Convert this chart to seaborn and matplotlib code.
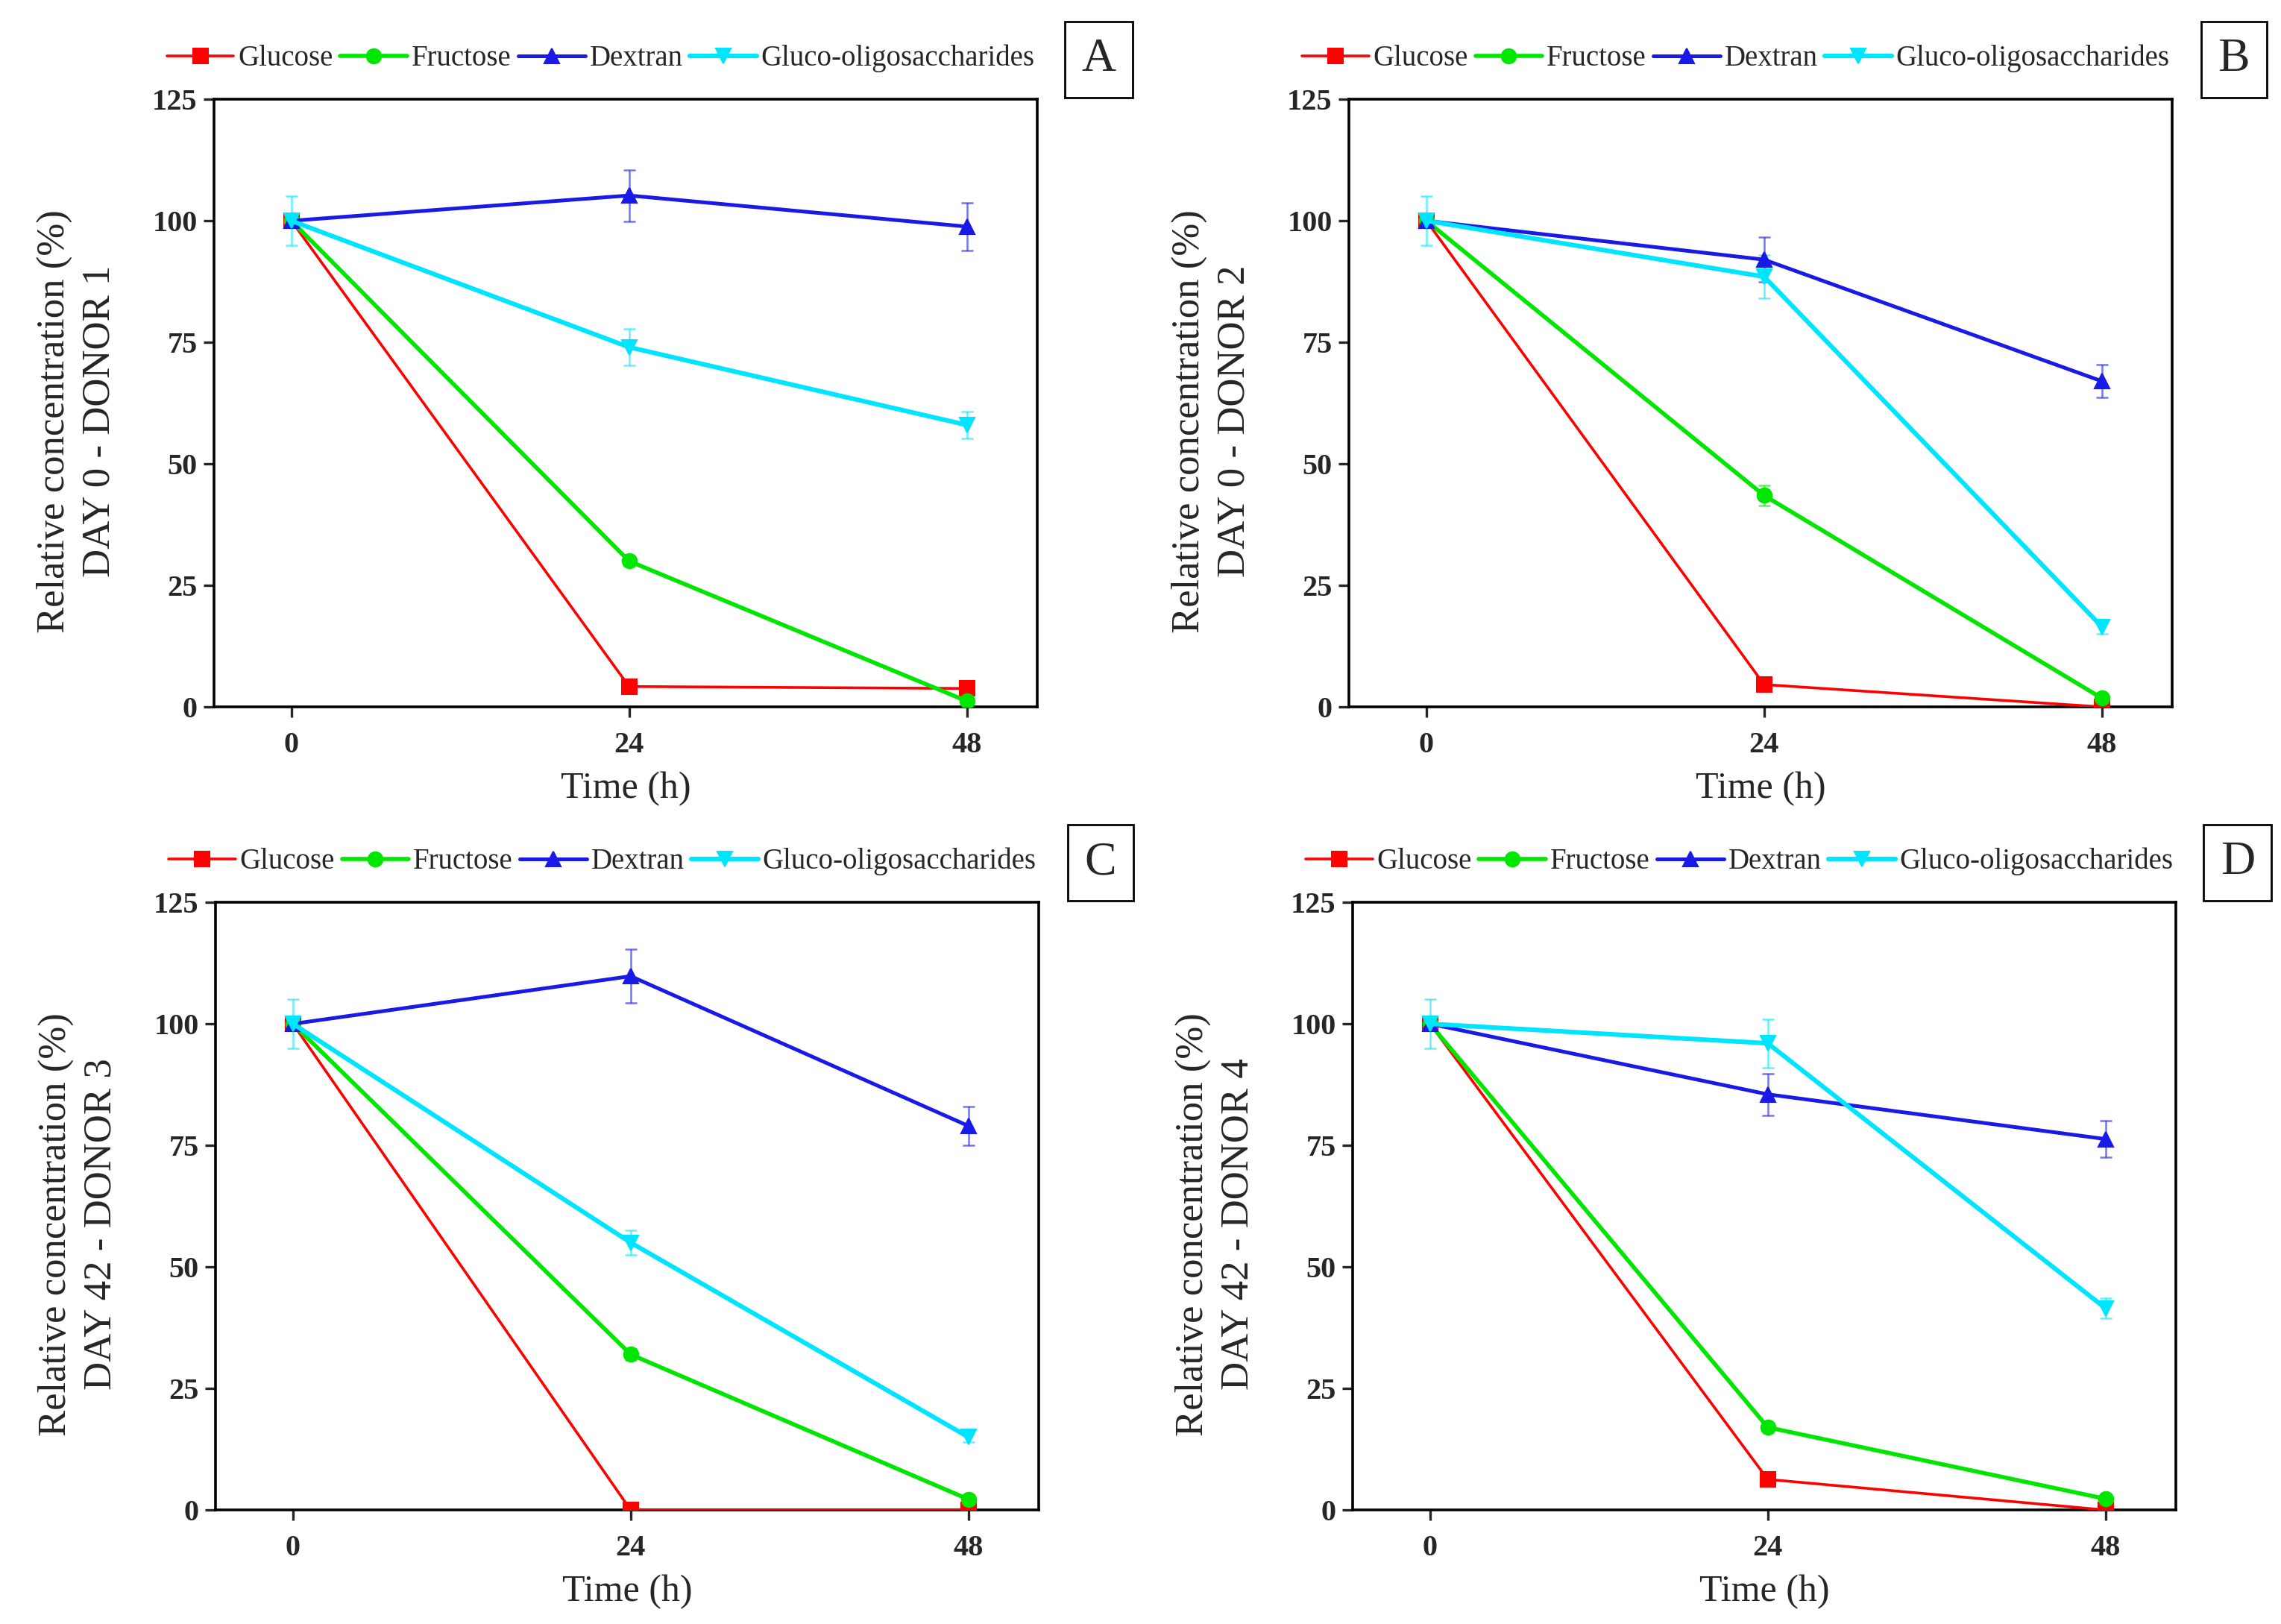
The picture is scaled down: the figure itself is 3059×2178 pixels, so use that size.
import numpy as np
import pandas as pd
import seaborn as sns
import matplotlib
matplotlib.use("Agg")
import matplotlib.pyplot as plt

# --- data ---
time_h = [0, 24, 48]
sugars = ["Glucose", "Fructose", "Dextran", "Gluco-oligosaccharides"]
panel_letters = ["A", "B", "C", "D"]
panel_ylabels = ["DAY 0 - DONOR 1", "DAY 0 - DONOR 2", "DAY 42 - DONOR 3", "DAY 42 - DONOR 4"]

glucose_vals = [[100, 4.2, 3.8], [100, 4.6, 0.0], [100, 0.0, 0.0], [100, 6.3, 0.0]]
fructose_vals = [[100, 30.0, 1.2], [100, 43.5, 1.8], [100, 32.0, 2.2], [100, 17.0, 2.3]]
dextran_vals = [[100, 105.2, 98.8], [100, 92.0, 67.0], [100, 109.8, 79.0], [100, 85.5, 76.3]]
gos_vals = [[100, 74.0, 58.0], [100, 88.5, 16.5], [100, 55.0, 15.0], [100, 96.0, 41.5]]

glucose_err = [[0.5, 0.3, 0.3], [0.5, 0.3, 0.0], [0.5, 0.0, 0.0], [0.5, 0.3, 0.0]]
fructose_err = [[0.5, 1.0, 0.3], [0.5, 2.0, 0.3], [0.5, 1.2, 0.5], [0.5, 0.5, 0.3]]
dextran_err = [[0.5, 5.3, 4.9], [0.5, 4.6, 3.4], [0.5, 5.5, 4.0], [0.5, 4.3, 3.8]]
gos_err = [[5.0, 3.8, 2.8], [5.0, 4.5, 1.5], [5.0, 2.6, 1.0], [5.0, 5.0, 2.0]]

colors = {"Glucose": "#ff0000", "Fructose": "#00e600",
          "Dextran": "#1a1ae6", "Gluco-oligosaccharides": "#00e5ff"}
markers = {"Glucose": "s", "Fructose": "o", "Dextran": "^", "Gluco-oligosaccharides": "v"}
widths = {"Glucose": 1.3, "Fructose": 2.0, "Dextran": 1.8, "Gluco-oligosaccharides": 2.2}

sns.set_style("white")
plt.rcParams['font.family'] = ['Liberation Serif', 'DejaVu Serif']

fig = plt.figure(figsize=(15.295, 10.89), dpi=200)

# axes rectangles [left, bottom, width, height] in figure fraction
rects = [[0.0938, 0.5647, 0.3609, 0.3742],
         [0.5914, 0.5647, 0.3609, 0.3742],
         [0.0945, 0.0702, 0.3609, 0.3742],
         [0.5930, 0.0702, 0.3609, 0.3742]]

for i in range(4):
    vals = [glucose_vals[i], fructose_vals[i], dextran_vals[i], gos_vals[i]]
    errs = [glucose_err[i], fructose_err[i], dextran_err[i], gos_err[i]]
    rows = []
    for s, v in zip(sugars, vals):
        for t, y in zip(time_h, v):
            rows.append({"time": t, "value": y, "sugar": s})
    df = pd.DataFrame(rows)

    ax = fig.add_axes(rects[i])
    # error bars first so the markers sit on top
    for s, v, e in zip(sugars, vals, errs):
        ax.errorbar(time_h, v, yerr=e, fmt="none", ecolor=colors[s],
                    elinewidth=0.9, capsize=3, capthick=0.9, alpha=0.6, zorder=2)
    for s in sugars:
        sub = df[df["sugar"] == s]
        sns.lineplot(data=sub, x="time", y="value", ax=ax, color=colors[s],
                     marker=markers[s], markersize=7, markeredgecolor=colors[s],
                     linewidth=widths[s], label=s, zorder=3)

    ax.set_xlim(-5.5, 53)
    ax.set_ylim(0, 125)
    ax.set_xticks(time_h)
    ax.set_yticks([0, 25, 50, 75, 100, 125])
    for lab in ax.get_xticklabels() + ax.get_yticklabels():
        lab.set_fontweight("bold")
        lab.set_fontsize(14.5)
    ax.tick_params(axis="x", direction="out", length=5, width=1.2,
                   bottom=True, top=False, pad=7)
    ax.tick_params(axis="y", direction="out", length=5, width=1.2,
                   left=True, right=False, pad=3)
    for sp in ax.spines.values():
        sp.set_linewidth(1.3)
        sp.set_color("black")
    ax.set_xlabel("Time (h)", fontsize=18, labelpad=6)
    ax.set_ylabel("Relative concentration (%)\n" + panel_ylabels[i], fontsize=19,
                  linespacing=1.35)
    ax.yaxis.set_label_coords(-0.117, 0.47)

    ax.legend(loc="lower center", bbox_to_anchor=(0.47, 1.025), ncol=4,
              frameon=False, fontsize=14, handlelength=2.3, handletextpad=0.15,
              columnspacing=0.25, borderaxespad=0.0)

    # panel letter box
    ax.text(1.075, 1.065, panel_letters[i], transform=ax.transAxes, fontsize=23,
            ha="center", va="center",
            bbox=dict(boxstyle="square,pad=0.35", facecolor="white",
                      edgecolor="black", linewidth=1.0))

fig.savefig("out.png", dpi=200)
